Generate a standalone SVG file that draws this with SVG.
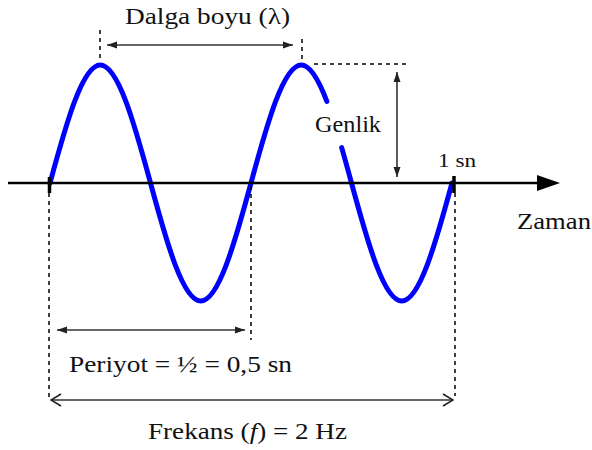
<svg xmlns="http://www.w3.org/2000/svg" width="592" height="450" viewBox="0 0 592 450">
<style>
text{font-family:'Liberation Serif','DejaVu Serif',serif;fill:#111;}
.dash{stroke:#000;stroke-width:1.5;stroke-dasharray:4 4;fill:none;}
.dim{stroke:#333;stroke-width:1.6;fill:none;}
.wave{stroke:#0000ff;stroke-width:5;fill:none;stroke-linecap:round;}
</style>
<defs>
<marker id="ah" markerUnits="userSpaceOnUse" viewBox="0 0 10 8" refX="10" refY="4" markerWidth="10" markerHeight="8" orient="auto-start-reverse">
<path d="M0,0.5 L10,4 L0,7.5 Z" fill="#222"/>
</marker>
<marker id="ch" markerUnits="userSpaceOnUse" viewBox="0 0 12 14" refX="11" refY="7" markerWidth="12" markerHeight="14" orient="auto-start-reverse">
<path d="M1,1 L11,7 L1,13" fill="none" stroke="#222" stroke-width="1.6"/>
</marker>
</defs>
<rect width="592" height="450" fill="#fff"/>

<g id="wave">
<path class="wave" d="M50,183 C66.34,122.73 82.61,65 100.25,65 C117.89,65 134.16,122.73 150.5,183 C166.84,243.27 183.11,301 200.75,301 C218.39,301 234.66,243.27 251,183 C267.34,122.73 283.61,65 301.25,65 C310.07,65 318.55,79.43 326.86,101.4"/>
<path class="wave" d="M341.69,147.59 C344.97,159 348.23,170.95 351.5,183 C367.84,243.27 384.11,301 401.75,301 C419.39,301 435.66,243.27 452,183"/>
</g>

<g id="axis">
<line x1="8" y1="183" x2="540" y2="183" stroke="#000" stroke-width="2.5"/>
<path d="M537,175 L560,183 L537,191 Z" fill="#000"/>
<line x1="49.5" y1="177" x2="49.5" y2="193" stroke="#000" stroke-width="3.5"/>
<line x1="454" y1="176" x2="454" y2="193" stroke="#000" stroke-width="3.5"/>
</g>

<g id="connectors">
<line class="dash" x1="100" y1="30" x2="100" y2="61"/>
<line class="dash" x1="302" y1="39" x2="302" y2="61"/>
<line class="dash" x1="314" y1="64" x2="409" y2="64"/>
<line class="dash" x1="49" y1="193" x2="49" y2="398"/>
<line class="dash" x1="251" y1="186" x2="251" y2="340"/>
<line class="dash" x1="455" y1="193" x2="455" y2="396"/>
<line class="dim" x1="107" y1="45" x2="293" y2="45" marker-start="url(#ah)" marker-end="url(#ah)"/>
<line class="dim" x1="397" y1="72" x2="397" y2="177" marker-start="url(#ah)" marker-end="url(#ah)"/>
<line class="dim" x1="57" y1="330" x2="245" y2="330" marker-start="url(#ah)" marker-end="url(#ah)"/>
<line class="dim" x1="51" y1="400" x2="453" y2="400" marker-start="url(#ch)" marker-end="url(#ch)"/>
</g>

<g id="label-dalga"><text x="125" y="24" font-family="Liberation Serif, serif" font-size="23" textLength="165" lengthAdjust="spacingAndGlyphs">Dalga boyu (λ)</text></g>
<g id="label-genlik"><text x="315" y="132" font-family="Liberation Serif, serif" font-size="24" textLength="66" lengthAdjust="spacingAndGlyphs">Genlik</text></g>
<g id="label-1sn"><text x="438" y="167" font-family="Liberation Serif, serif" font-size="19" textLength="38" lengthAdjust="spacingAndGlyphs">1 sn</text></g>
<g id="label-zaman"><text x="517" y="229" font-family="Liberation Serif, serif" font-size="24" textLength="74" lengthAdjust="spacingAndGlyphs">Zaman</text></g>
<g id="label-periyot"><text x="69" y="372" font-family="Liberation Serif, serif" font-size="24" textLength="223" lengthAdjust="spacingAndGlyphs">Periyot = ½ = 0,5  sn</text></g>
<g id="label-frekans"><text x="148" y="439" font-family="Liberation Serif, serif" font-size="24" textLength="199" lengthAdjust="spacingAndGlyphs">Frekans (<tspan font-style="italic">f</tspan>) = 2 Hz</text></g>
</svg>
